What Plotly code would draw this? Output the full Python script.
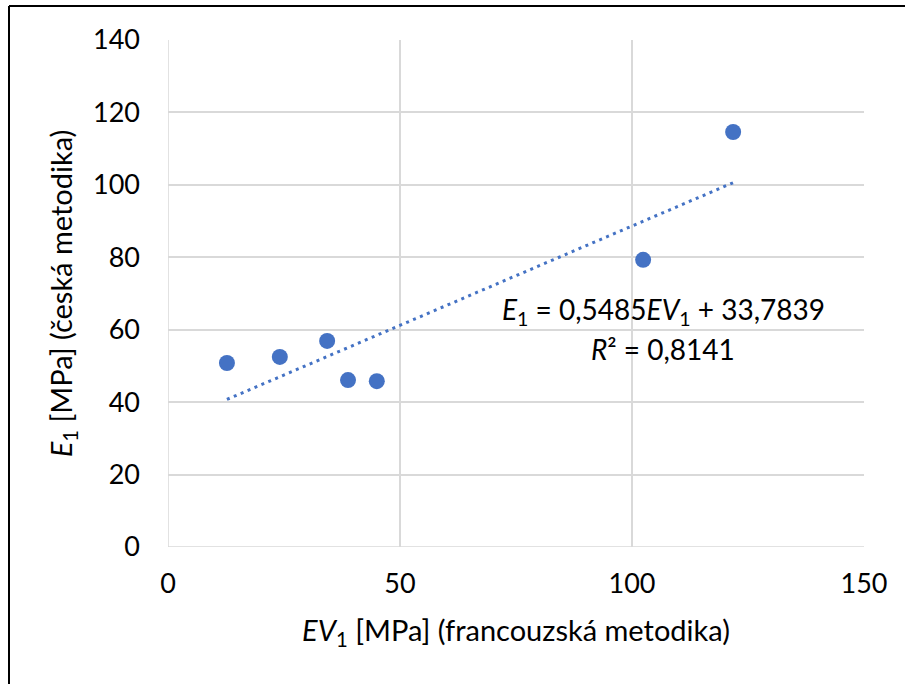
import plotly.graph_objects as go

# data
ev1 = [12.7, 24.1, 34.3, 38.8, 45.0, 102.4, 121.8]
e1 = [50.8, 52.5, 56.9, 46.1, 45.8, 79.3, 114.6]
slope = 0.5485
intercept = 33.7839
r2 = 0.8141
x_ticks = [0, 50, 100, 150]
y_ticks = [0, 20, 40, 60, 80, 100, 120, 140]

FONT = "Lato, Carlito, Calibri, sans-serif"
BLUE = "#4472C4"

x_line = [min(ev1), max(ev1)]
y_line = [slope * v + intercept for v in x_line]

fig = go.Figure()
fig.add_trace(go.Scatter(
    x=x_line, y=y_line, mode="lines",
    line=dict(color=BLUE, width=3, dash="3px,4.5px"),
    hoverinfo="skip", showlegend=False,
))
fig.add_trace(go.Scatter(
    x=ev1, y=e1, mode="markers",
    marker=dict(color=BLUE, size=16),
    showlegend=False,
))

fig.add_annotation(
    x=106.7, y=65.2, xref="x", yref="y", showarrow=False,
    text="<i>E</i><sub>1</sub> = 0,5485<i>EV</i><sub>1</sub> + 33,7839",
    font=dict(family=FONT, size=28, color="black"), xanchor="center", yanchor="middle",
)
fig.add_annotation(
    x=106.7, y=54.8, xref="x", yref="y", showarrow=False,
    text="<i>R</i>² = " + f"{r2:.4f}".replace(".", ","),
    font=dict(family=FONT, size=28, color="black"), xanchor="center", yanchor="middle",
)

# outer chart frame (only top and left edges visible)
L, R, T, B = 168, 864, 40, 547
W, H = R - L, B - T
def px_x(p):
    return (p - L) / W
def px_y(p):
    return (B - p) / H
fig.add_shape(type="line", xref="paper", yref="paper",
              x0=px_x(9), x1=px_x(910), y0=px_y(6), y1=px_y(6),
              line=dict(color="black", width=2))
fig.add_shape(type="line", xref="paper", yref="paper",
              x0=px_x(9), x1=px_x(9), y0=px_y(6), y1=px_y(690),
              line=dict(color="black", width=2))

axis_common = dict(
    showgrid=True, gridcolor="#D9D9D9", gridwidth=1.5,
    zeroline=False, showline=False, ticks="",
    tickfont=dict(family=FONT, size=27, color="black"),
)
fig.update_xaxes(
    range=[0, 150], tickvals=x_ticks, **axis_common,
    ticklabelstandoff=18,
    title=dict(text="<i>EV</i><sub>1</sub> [MPa] (francouzská metodika)",
               font=dict(family=FONT, size=29, color="black"), standoff=22),
)
fig.update_yaxes(
    range=[0, 140], tickvals=y_ticks, **axis_common,
    ticklabelstandoff=27,
    title=dict(text="<i>E</i><sub>1</sub> [MPa] (česká metodika)",
               font=dict(family=FONT, size=29, color="black"), standoff=11),
)
fig.add_shape(type="line", xref="x", yref="y", x0=0, x1=0, y0=0, y1=140,
              line=dict(color="#D9D9D9", width=1.5), layer="below")
fig.add_shape(type="line", xref="x", yref="y", x0=0, x1=150, y0=0, y1=0,
              line=dict(color="#D9D9D9", width=1.5), layer="below")

fig.update_layout(
    width=905, height=684,
    margin=dict(l=L, r=905 - R, t=T, b=684 - B, autoexpand=False),
    plot_bgcolor="white", paper_bgcolor="white",
    font=dict(family=FONT, color="black"),
)
fig.write_html("out.html", config={"displayModeBar": False},
               post_script="document.body.style.margin='0';document.body.style.overflow='hidden';")
